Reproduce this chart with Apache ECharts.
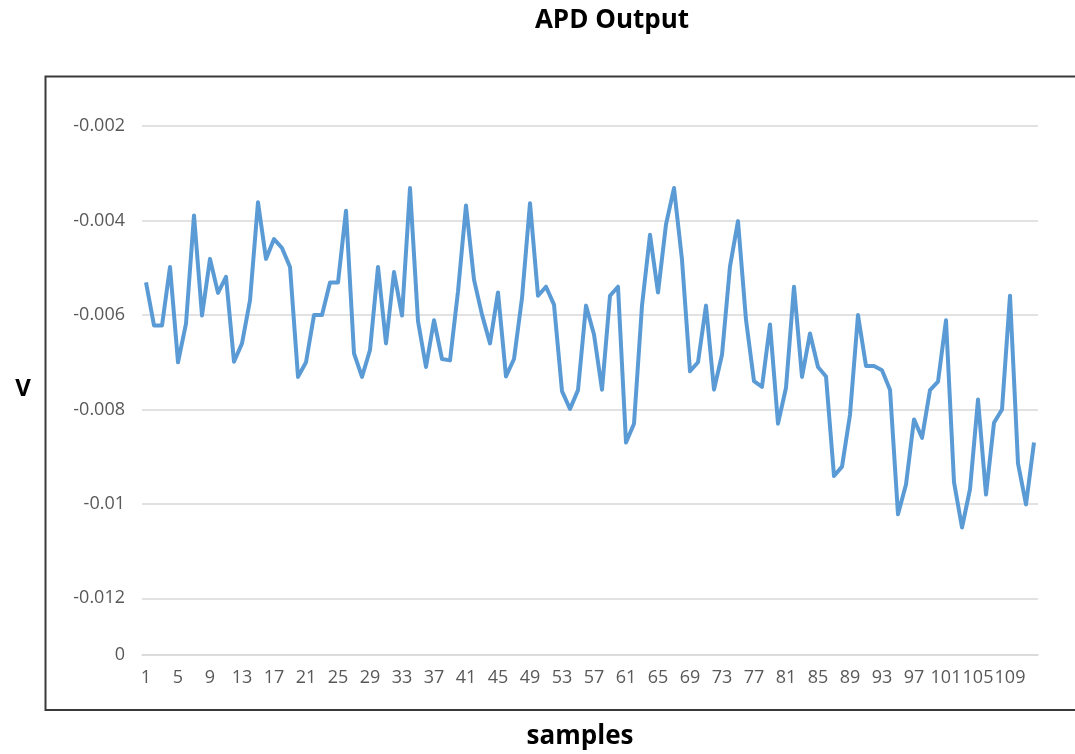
<!DOCTYPE html>
<html>
<head>
<meta charset="utf-8">
<script src="https://cdn.jsdelivr.net/npm/echarts@6/dist/echarts.min.js"></script>
<style>html,body{margin:0;padding:0;background:#fff;}#main{width:1075px;height:754px;}</style>
</head>
<body>
<div id="main"></div>
<script>
// Sample numbers 1..112 (category axis)
const categories = [];
for (let i = 1; i <= 112; i++) categories.push(String(i));

// APD output voltage (V)
const apdValues = [
  -0.00531, -0.00622, -0.00622, -0.00498, -0.00700, -0.00618, -0.00389, -0.00601, -0.00481, -0.00553,
  -0.00519, -0.00699, -0.00660, -0.00569, -0.00361, -0.00481, -0.00439, -0.00458, -0.00498, -0.00731,
  -0.00700, -0.00600, -0.00600, -0.00531, -0.00531, -0.00379, -0.00681, -0.00731, -0.00674, -0.00498,
  -0.00660, -0.00509, -0.00601, -0.00331, -0.00613, -0.00710, -0.00611, -0.00693, -0.00696, -0.00550,
  -0.00368, -0.00525, -0.00599, -0.00660, -0.00552, -0.00730, -0.00693, -0.00564, -0.00363, -0.00559,
  -0.00540, -0.00578, -0.00761, -0.00799, -0.00759, -0.00580, -0.00641, -0.00758, -0.00559, -0.00540,
  -0.00870, -0.00830, -0.00580, -0.00430, -0.00552, -0.00408, -0.00331, -0.00483, -0.00719, -0.00700,
  -0.00580, -0.00758, -0.00684, -0.00497, -0.00401, -0.00610, -0.00740, -0.00752, -0.00620, -0.00830,
  -0.00754, -0.00540, -0.00731, -0.00639, -0.00710, -0.00730, -0.00941, -0.00921, -0.00811, -0.00600,
  -0.00708, -0.00708, -0.00717, -0.00758, -0.01022, -0.00959, -0.00821, -0.00860, -0.00759, -0.00741,
  -0.00611, -0.00954, -0.01050, -0.00969, -0.00779, -0.00980, -0.00828, -0.00800, -0.00559, -0.00914,
  -0.01001, -0.00870
];

// Y-axis tick positions and their labels (bottom of the axis is labelled "0")
const yTickValues = [-0.0132, -0.012, -0.01, -0.008, -0.006, -0.004, -0.002];
const yTickLabels = ['0', '-0.012', '-0.01', '-0.008', '-0.006', '-0.004', '-0.002'];

const chart = echarts.init(document.getElementById('main'), null, {renderer: 'canvas'});
const labelFont = '"Open Sans", "Noto Sans", sans-serif';

chart.setOption({
  animation: false,
  backgroundColor: '#ffffff',
  title: [
    {text: 'APD Output', left: 607, top: 3, textAlign: 'center',
     textStyle: {fontFamily: labelFont, fontWeight: 'bold', fontSize: 26, color: '#000'}},
    {text: 'V', left: 18, top: 372, textAlign: 'center',
     textStyle: {fontFamily: labelFont, fontWeight: 'bold', fontSize: 24, color: '#000'}},
    {text: 'samples', left: 575, top: 719, textAlign: 'center',
     textStyle: {fontFamily: labelFont, fontWeight: 'bold', fontSize: 26, color: '#000'}}
  ],
  grid: {left: 142, right: 37, top: 79, bottom: 99, containLabel: false},
  xAxis: {
    type: 'category',
    data: categories,
    boundaryGap: true,
    axisLine: {show: true, lineStyle: {color: '#d9d9d9', width: 1.5}},
    axisTick: {show: false},
    axisLabel: {interval: 3, color: '#595959', fontSize: 18, fontFamily: labelFont, margin: 14}
  },
  yAxis: {
    type: 'value',
    min: -0.0132,
    max: -0.001,
    axisLine: {show: false},
    axisTick: {show: false, customValues: yTickValues},
    splitLine: {show: true, lineStyle: {color: '#d9d9d9', width: 1.5}},
    axisLabel: {
      customValues: yTickValues,
      color: '#595959', fontSize: 18, fontFamily: labelFont, margin: 17,
      formatter: function (v) {
        let best = 0, d = Infinity;
        for (let i = 0; i < yTickValues.length; i++) {
          const dd = Math.abs(yTickValues[i] - v);
          if (dd < d) { d = dd; best = i; }
        }
        return yTickLabels[best];
      }
    }
  },
  graphic: [{
    type: 'rect',
    shape: {x: 45.5, y: 76.5, width: 1100, height: 633.5},
    style: {fill: 'none', stroke: '#3a3a3a', lineWidth: 2},
    silent: true
  }],
  series: [{
    type: 'line',
    data: apdValues,
    showSymbol: false,
    symbol: 'none',
    lineStyle: {color: '#5B9BD5', width: 4, join: 'round'},
    itemStyle: {color: '#5B9BD5'}
  }]
});
</script>
</body>
</html>
